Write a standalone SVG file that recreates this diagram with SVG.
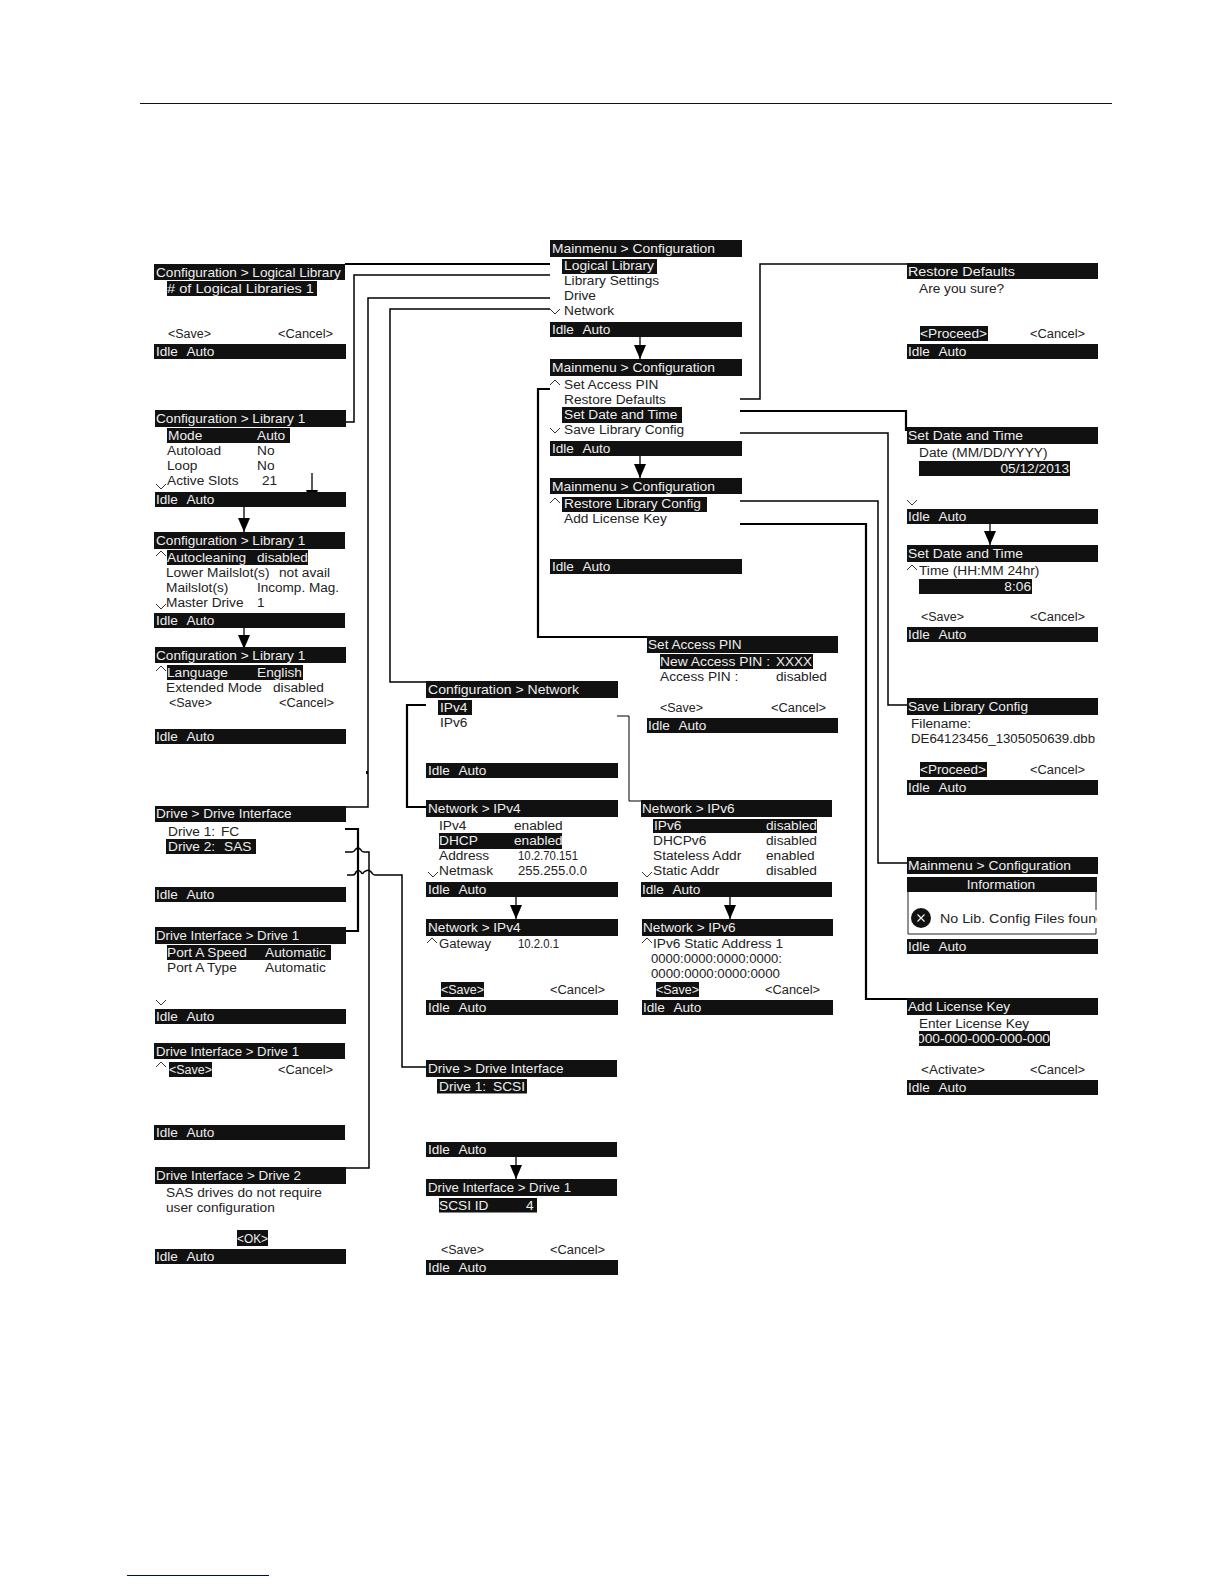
<svg xmlns="http://www.w3.org/2000/svg" width="1224" height="1584" viewBox="0 0 1224 1584">
<style>
text{font-family:"Liberation Sans",Arial,sans-serif;font-size:13.7px;fill:#222}
text.w{fill:#eee}
text.t{fill:#eee;font-size:13.6px}
text.i{fill:#eee;font-size:13.6px;word-spacing:5.5px}
rect.b{fill:#111}
.c{fill:none;stroke:#000;stroke-width:1.5}
.c2{fill:none;stroke:#000;stroke-width:2.2}
.c1{fill:none;stroke:#000;stroke-width:1}
.a{fill:none;stroke:#000;stroke-width:1.3;marker-end:url(#ah)}
.v{fill:none;stroke:#333;stroke-width:1}
</style>
<defs>
<marker id="ah" markerUnits="userSpaceOnUse" markerWidth="14" markerHeight="13" refX="14" refY="6" orient="auto"><path d="M0 0L14 6L0 12Z" fill="#000"/></marker>
<path id="dn" class="v" d="M0 0L5 5L10 0"/>
<path id="up" class="v" d="M0 5L5 0L10 5"/>
<clipPath id="cf"><rect x="930" y="905" width="167" height="25"/></clipPath>
<clipPath id="cl"><rect x="919" y="1031" width="131" height="15"/></clipPath>
</defs>
<rect width="1224" height="1584" fill="#fff"/>
<rect x="140" y="103" width="972" height="1" fill="#111"/>
<rect x="127" y="1575" width="142" height="1" fill="#00009c"/>

<g id="connectors">
<path class="c2" d="M345 264H550"/>
<path class="c" d="M550 275H354V422H346"/>
<path class="c" d="M550 298H368V807H346"/>
<path class="c" d="M550 309H390V682H426"/>
<path class="c2" d="M550 389H538V637H647"/>
<path class="c" d="M740 399H760V264H907"/>
<path class="c2" d="M740 411H906V431"/>
<path class="c" d="M740 433H888V705H907"/>
<path class="c" d="M740 501H878V863H907"/>
<path class="c2" d="M740 524H866V999H907"/>
<path class="c2" d="M426 705H407V807H426"/>
<path class="c1" d="M617 716H629V801H641"/>
<path class="c2" d="M345 829H358V931H346"/>
<path class="c" d="M345 852H352Q354 852 355 850Q358 846 361 850Q362 852 364 852H369V1168H346"/>
<path class="c" d="M347 875H353Q355 875 356 872Q358 869 361 872Q362 875 364 872Q369 868 372 873Q373 875 375 875H402V1067H426"/>
<rect x="366" y="771" width="2" height="3" fill="#000"/>
<path class="a" d="M312 473V504"/>
<path class="a" d="M244 507V532"/>
<path class="a" d="M244 628V649"/>
<path class="a" d="M640 337V359"/>
<path class="a" d="M640 456V478"/>
<path class="a" d="M516 897V919"/>
<path class="a" d="M730 897V919"/>
<path class="a" d="M516 1157V1179"/>
<path class="a" d="M990 524V545"/>
</g>

<g id="config-logical-library">
<rect class="b" x="154" y="264" width="191" height="16"/><text class="t" x="156" y="276.500">Configuration &gt; Logical Library</text>
<rect class="b" x="167" y="281" width="150" height="15"/><text class="w" x="167" y="293" textLength="147" lengthAdjust="spacingAndGlyphs"># of Logical Libraries  1</text>
<text x="168" y="338" textLength="43" lengthAdjust="spacingAndGlyphs">&lt;Save&gt;</text><text x="278" y="338" textLength="55" lengthAdjust="spacingAndGlyphs">&lt;Cancel&gt;</text>
<rect class="b" x="154" y="344" width="192" height="15"/><text class="i" x="156" y="355.500">Idle Auto</text>
</g>

<g id="config-library-1a">
<rect class="b" x="155" y="410" width="191" height="17"/><text class="t" x="156" y="422.500">Configuration &gt; Library 1</text>
<rect class="b" x="167" y="428" width="123" height="15"/><text class="w" x="168" y="440">Mode</text><text class="w" x="257" y="440">Auto</text>
<text x="167" y="455">Autoload</text><text x="257" y="455">No</text>
<text x="167" y="470">Loop</text><text x="257" y="470">No</text>
<use href="#dn" x="156" y="484"/><text x="167" y="485">Active Slots</text><text x="262" y="485">21</text>
<rect class="b" x="155" y="492" width="191" height="15"/><text class="i" x="156" y="503.500">Idle Auto</text>
</g>

<g id="config-library-1b">
<rect class="b" x="154" y="532" width="191" height="17"/><text class="t" x="156" y="545">Configuration &gt; Library 1</text>
<use href="#up" x="156" y="551"/><rect class="b" x="167" y="550" width="141" height="15"/><text class="w" x="167" y="562">Autocleaning</text><text class="w" x="257" y="562">disabled</text>
<text x="166" y="577">Lower Mailslot(s)</text><text x="279" y="577">not avail</text>
<text x="166" y="592">Mailslot(s)</text><text x="257" y="592" textLength="82" lengthAdjust="spacingAndGlyphs">Incomp. Mag.</text>
<use href="#dn" x="156" y="604"/><text x="166" y="607">Master Drive</text><text x="257" y="607">1</text>
<rect class="b" x="154" y="613" width="191" height="15"/><text class="i" x="156" y="624.500">Idle Auto</text>
</g>

<g id="config-library-1c">
<rect class="b" x="155" y="647" width="191" height="16"/><text class="t" x="156" y="659.500">Configuration &gt; Library 1</text>
<use href="#up" x="156" y="666"/><rect class="b" x="167" y="665" width="136" height="15"/><text class="w" x="167" y="677">Language</text><text class="w" x="257" y="677">English</text>
<text x="166" y="692">Extended Mode</text><text x="273" y="692">disabled</text>
<text x="169" y="707" textLength="43" lengthAdjust="spacingAndGlyphs">&lt;Save&gt;</text><text x="279" y="707" textLength="55" lengthAdjust="spacingAndGlyphs">&lt;Cancel&gt;</text>
<rect class="b" x="155" y="729" width="191" height="15"/><text class="i" x="156" y="740.500">Idle Auto</text>
</g>

<g id="drive-interface">
<rect class="b" x="155" y="806" width="191" height="16"/><text class="t" x="156" y="818">Drive &gt; Drive Interface</text>
<text x="168" y="836">Drive 1:</text><text x="221" y="836">FC</text>
<rect class="b" x="166" y="839" width="90" height="15"/><text class="w" x="168" y="851">Drive 2:</text><text class="w" x="224" y="851">SAS</text>
<rect class="b" x="155" y="887" width="191" height="15"/><text class="i" x="156" y="898.500">Idle Auto</text>
</g>

<g id="drive-1a">
<rect class="b" x="155" y="927" width="191" height="17"/><text class="t" x="156" y="939.500" textLength="143" lengthAdjust="spacingAndGlyphs">Drive Interface &gt; Drive 1</text>
<rect class="b" x="167" y="945" width="164" height="15"/><text class="w" x="167" y="957">Port A Speed</text><text class="w" x="265" y="957">Automatic</text>
<text x="167" y="972">Port A Type</text><text x="265" y="972">Automatic</text>
<use href="#dn" x="156" y="1000"/>
<rect class="b" x="155" y="1009" width="191" height="15"/><text class="i" x="156" y="1020.500">Idle Auto</text>
</g>

<g id="drive-1b">
<rect class="b" x="154" y="1043" width="191" height="16"/><text class="t" x="156" y="1055.500" textLength="143" lengthAdjust="spacingAndGlyphs">Drive Interface &gt; Drive 1</text>
<use href="#up" x="156" y="1062"/><rect class="b" x="169" y="1062" width="43" height="15"/><text class="w" x="169" y="1073.500" textLength="43" lengthAdjust="spacingAndGlyphs">&lt;Save&gt;</text><text x="278" y="1073.500" textLength="55" lengthAdjust="spacingAndGlyphs">&lt;Cancel&gt;</text>
<rect class="b" x="154" y="1125" width="191" height="15"/><text class="i" x="156" y="1136.500">Idle Auto</text>
</g>

<g id="drive-2">
<rect class="b" x="155" y="1167" width="191" height="17"/><text class="t" x="156" y="1179.500" textLength="145" lengthAdjust="spacingAndGlyphs">Drive Interface &gt; Drive 2</text>
<text x="166" y="1197">SAS drives do not require</text>
<text x="166" y="1212">user configuration</text>
<rect class="b" x="237" y="1230" width="31" height="16"/><text class="w" x="237" y="1243" textLength="31" lengthAdjust="spacingAndGlyphs">&lt;OK&gt;</text>
<rect class="b" x="155" y="1249" width="191" height="15"/><text class="i" x="156" y="1260.500">Idle Auto</text>
</g>

<g id="mainmenu-1">
<rect class="b" x="550" y="240" width="192" height="17"/><text class="t" x="552" y="253" textLength="163" lengthAdjust="spacingAndGlyphs">Mainmenu &gt; Configuration</text>
<rect class="b" x="562" y="259" width="95" height="15"/><text class="w" x="564" y="270" textLength="90" lengthAdjust="spacingAndGlyphs">Logical Library</text>
<text x="564" y="285">Library Settings</text>
<text x="564" y="300">Drive</text>
<use href="#dn" x="550" y="309"/><text x="564" y="315">Network</text>
<rect class="b" x="550" y="322" width="192" height="15"/><text class="i" x="552" y="333.500">Idle Auto</text>
</g>

<g id="mainmenu-2">
<rect class="b" x="550" y="359" width="192" height="17"/><text class="t" x="552" y="372" textLength="163" lengthAdjust="spacingAndGlyphs">Mainmenu &gt; Configuration</text>
<use href="#up" x="550" y="380"/><text x="564" y="389">Set Access PIN</text>
<text x="564" y="404">Restore Defaults</text>
<rect class="b" x="562" y="407" width="120" height="16"/><text class="w" x="564" y="419">Set Date and Time</text>
<use href="#dn" x="550" y="428"/><text x="564" y="434">Save Library Config</text>
<rect class="b" x="550" y="441" width="192" height="15"/><text class="i" x="552" y="452.500">Idle Auto</text>
</g>

<g id="mainmenu-3">
<rect class="b" x="550" y="478" width="192" height="16"/><text class="t" x="552" y="490.500" textLength="163" lengthAdjust="spacingAndGlyphs">Mainmenu &gt; Configuration</text>
<use href="#up" x="550" y="498"/><rect class="b" x="562" y="497" width="145" height="15"/><text class="w" x="564" y="507.500">Restore Library Config</text>
<text x="564" y="522.500">Add License Key</text>
<rect class="b" x="550" y="559" width="192" height="15"/><text class="i" x="552" y="570.500">Idle Auto</text>
</g>

<g id="set-access-pin">
<rect class="b" x="647" y="636" width="191" height="17"/><text class="t" x="648" y="649">Set Access PIN</text>
<rect class="b" x="660" y="654" width="153" height="15"/><text class="w" x="660" y="666" textLength="110" lengthAdjust="spacingAndGlyphs">New Access PIN :</text><text class="w" x="776" y="666" textLength="36" lengthAdjust="spacingAndGlyphs">XXXX</text>
<text x="660" y="681">Access PIN :</text><text x="776" y="681">disabled</text>
<text x="660" y="712" textLength="43" lengthAdjust="spacingAndGlyphs">&lt;Save&gt;</text><text x="771" y="712" textLength="55" lengthAdjust="spacingAndGlyphs">&lt;Cancel&gt;</text>
<rect class="b" x="647" y="718" width="191" height="15"/><text class="i" x="648" y="729.500">Idle Auto</text>
</g>

<g id="config-network">
<rect class="b" x="426" y="681" width="192" height="17"/><text class="t" x="428" y="694" textLength="151" lengthAdjust="spacingAndGlyphs">Configuration &gt; Network</text>
<rect class="b" x="438" y="700" width="34" height="15"/><text class="w" x="440" y="712">IPv4</text>
<text x="440" y="727">IPv6</text>
<rect class="b" x="426" y="763" width="192" height="15"/><text class="i" x="428" y="774.500">Idle Auto</text>
</g>

<g id="network-ipv4-a">
<rect class="b" x="426" y="800" width="192" height="17"/><text class="t" x="428" y="813">Network &gt; IPv4</text>
<text x="439" y="830">IPv4</text><text x="514" y="830">enabled</text>
<rect class="b" x="439" y="833" width="123" height="16"/><text class="w" x="439" y="845">DHCP</text><text class="w" x="514" y="845">enabled</text>
<text x="439" y="860">Address</text><text x="518" y="860" textLength="60" lengthAdjust="spacingAndGlyphs">10.2.70.151</text>
<use href="#dn" x="428" y="872"/><text x="439" y="875">Netmask</text><text x="518" y="875" textLength="69" lengthAdjust="spacingAndGlyphs">255.255.0.0</text>
<rect class="b" x="426" y="882" width="192" height="15"/><text class="i" x="428" y="893.500">Idle Auto</text>
</g>

<g id="network-ipv4-b">
<rect class="b" x="426" y="919" width="192" height="17"/><text class="t" x="428" y="932">Network &gt; IPv4</text>
<use href="#up" x="427" y="938"/><text x="439" y="948" textLength="52" lengthAdjust="spacingAndGlyphs">Gateway</text><text x="518" y="948" textLength="41" lengthAdjust="spacingAndGlyphs">10.2.0.1</text>
<rect class="b" x="441" y="982" width="43" height="15"/><text class="w" x="441" y="994" textLength="43" lengthAdjust="spacingAndGlyphs">&lt;Save&gt;</text><text x="550" y="994" textLength="55" lengthAdjust="spacingAndGlyphs">&lt;Cancel&gt;</text>
<rect class="b" x="426" y="1000" width="192" height="15"/><text class="i" x="428" y="1011.500">Idle Auto</text>
</g>

<g id="network-ipv6-a">
<rect class="b" x="641" y="800" width="191" height="17"/><text class="t" x="642" y="813">Network &gt; IPv6</text>
<rect class="b" x="653" y="819" width="164" height="14"/><text class="w" x="654" y="830">IPv6</text><text class="w" x="766" y="830">disabled</text>
<text x="653" y="845">DHCPv6</text><text x="766" y="845">disabled</text>
<text x="653" y="860">Stateless Addr</text><text x="766" y="860">enabled</text>
<use href="#dn" x="642" y="872"/><text x="653" y="875">Static Addr</text><text x="766" y="875">disabled</text>
<rect class="b" x="641" y="882" width="191" height="15"/><text class="i" x="642" y="893.500">Idle Auto</text>
</g>

<g id="network-ipv6-b">
<rect class="b" x="642" y="919" width="191" height="17"/><text class="t" x="643" y="932">Network &gt; IPv6</text>
<use href="#up" x="642" y="938"/><text x="653" y="948">IPv6 Static Address 1</text>
<text x="651" y="963" textLength="131" lengthAdjust="spacingAndGlyphs">0000:0000:0000:0000:</text>
<text x="651" y="978" textLength="129" lengthAdjust="spacingAndGlyphs">0000:0000:0000:0000</text>
<rect class="b" x="656" y="982" width="43" height="15"/><text class="w" x="656" y="994" textLength="43" lengthAdjust="spacingAndGlyphs">&lt;Save&gt;</text><text x="765" y="994" textLength="55" lengthAdjust="spacingAndGlyphs">&lt;Cancel&gt;</text>
<rect class="b" x="642" y="1000" width="191" height="15"/><text class="i" x="643" y="1011.500">Idle Auto</text>
</g>

<g id="drive-interface-scsi">
<rect class="b" x="426" y="1060" width="191" height="17"/><text class="t" x="428" y="1073">Drive &gt; Drive Interface</text>
<rect class="b" x="437" y="1079" width="90" height="14.500"/><text class="w" x="439" y="1091">Drive 1:</text><text class="w" x="493" y="1091">SCSI</text>
<rect class="b" x="426" y="1142" width="191" height="15"/><text class="i" x="428" y="1153.500">Idle Auto</text>
</g>

<g id="drive-1-scsi">
<rect class="b" x="426" y="1179" width="191" height="17"/><text class="t" x="428" y="1192" textLength="143" lengthAdjust="spacingAndGlyphs">Drive Interface &gt; Drive 1</text>
<rect class="b" x="439" y="1198" width="98" height="14.500"/><text class="w" x="439" y="1209.500">SCSI ID</text><text class="w" x="526" y="1209.500">4</text>
<text x="441" y="1254" textLength="43" lengthAdjust="spacingAndGlyphs">&lt;Save&gt;</text><text x="550" y="1254" textLength="55" lengthAdjust="spacingAndGlyphs">&lt;Cancel&gt;</text>
<rect class="b" x="426" y="1260" width="192" height="15"/><text class="i" x="428" y="1271.500">Idle Auto</text>
</g>

<g id="restore-defaults">
<rect class="b" x="907" y="263" width="191" height="16"/><text class="t" x="908" y="276" textLength="107" lengthAdjust="spacingAndGlyphs">Restore Defaults</text>
<text x="919" y="293">Are you sure?</text>
<rect class="b" x="920" y="326" width="68" height="15"/><text class="w" x="920" y="338" textLength="67" lengthAdjust="spacingAndGlyphs">&lt;Proceed&gt;</text><text x="1030" y="338" textLength="55" lengthAdjust="spacingAndGlyphs">&lt;Cancel&gt;</text>
<rect class="b" x="907" y="344" width="191" height="15"/><text class="i" x="908" y="355.500">Idle Auto</text>
</g>

<g id="set-date">
<rect class="b" x="907" y="427" width="191" height="17"/><text class="t" x="908" y="440" textLength="115" lengthAdjust="spacingAndGlyphs">Set Date and Time</text>
<text x="919" y="457">Date (MM/DD/YYYY)</text>
<rect class="b" x="919" y="461" width="151" height="15"/><text class="w" x="1069" y="473" text-anchor="end">05/12/2013</text>
<use href="#dn" x="907" y="500"/>
<rect class="b" x="907" y="509" width="191" height="15"/><text class="i" x="908" y="520.500">Idle Auto</text>
</g>

<g id="set-time">
<rect class="b" x="907" y="545" width="191" height="17"/><text class="t" x="908" y="558" textLength="115" lengthAdjust="spacingAndGlyphs">Set Date and Time</text>
<use href="#up" x="907" y="565"/><text x="919" y="575">Time (HH:MM 24hr)</text>
<rect class="b" x="919" y="579" width="113" height="15"/><text class="w" x="1031" y="591" text-anchor="end">8:06</text>
<text x="921" y="621" textLength="43" lengthAdjust="spacingAndGlyphs">&lt;Save&gt;</text><text x="1030" y="621" textLength="55" lengthAdjust="spacingAndGlyphs">&lt;Cancel&gt;</text>
<rect class="b" x="907" y="627" width="191" height="15"/><text class="i" x="908" y="638.500">Idle Auto</text>
</g>

<g id="save-library-config">
<rect class="b" x="907" y="698" width="191" height="17"/><text class="t" x="908" y="711" textLength="120" lengthAdjust="spacingAndGlyphs">Save Library Config</text>
<text x="911" y="728">Filename:</text>
<text x="911" y="743" textLength="184" lengthAdjust="spacingAndGlyphs">DE64123456_1305050639.dbb</text>
<rect class="b" x="920" y="762" width="67" height="15"/><text class="w" x="920" y="774" textLength="66" lengthAdjust="spacingAndGlyphs">&lt;Proceed&gt;</text><text x="1030" y="774" textLength="55" lengthAdjust="spacingAndGlyphs">&lt;Cancel&gt;</text>
<rect class="b" x="907" y="780" width="191" height="15"/><text class="i" x="908" y="791.500">Idle Auto</text>
</g>

<g id="no-config-files">
<rect class="b" x="907" y="857" width="191" height="17"/><text class="t" x="908" y="870" textLength="163" lengthAdjust="spacingAndGlyphs">Mainmenu &gt; Configuration</text>
<path fill="none" stroke="#222" stroke-width="1" d="M908 892V934H1096V928M1096 892V910"/>
<rect class="b" x="907" y="877" width="190" height="15"/><text class="w" x="1001" y="889" text-anchor="middle">Information</text>
<circle cx="921" cy="918" r="10" fill="#111"/>
<path d="M917.500 914.500L924.500 921.500M924.500 914.500L917.500 921.500" stroke="#eee" stroke-width="1.200" fill="none"/>
<text x="940" y="923" clip-path="url(#cf)" textLength="164" lengthAdjust="spacingAndGlyphs">No Lib. Config Files found</text>
<rect class="b" x="907" y="939" width="191" height="15"/><text class="i" x="908" y="950.500">Idle Auto</text>
</g>

<g id="add-license-key">
<rect class="b" x="907" y="998" width="191" height="17"/><text class="t" x="908" y="1011">Add License Key</text>
<text x="919" y="1028" textLength="110" lengthAdjust="spacingAndGlyphs">Enter License Key</text>
<rect class="b" x="919" y="1031" width="131" height="15"/><text class="w" x="917" y="1043" clip-path="url(#cl)" textLength="133" lengthAdjust="spacingAndGlyphs">000-000-000-000-000</text>
<text x="921" y="1074" textLength="64" lengthAdjust="spacingAndGlyphs">&lt;Activate&gt;</text><text x="1030" y="1074" textLength="55" lengthAdjust="spacingAndGlyphs">&lt;Cancel&gt;</text>
<rect class="b" x="907" y="1080" width="191" height="15"/><text class="i" x="908" y="1091.500">Idle Auto</text>
</g>
</svg>
